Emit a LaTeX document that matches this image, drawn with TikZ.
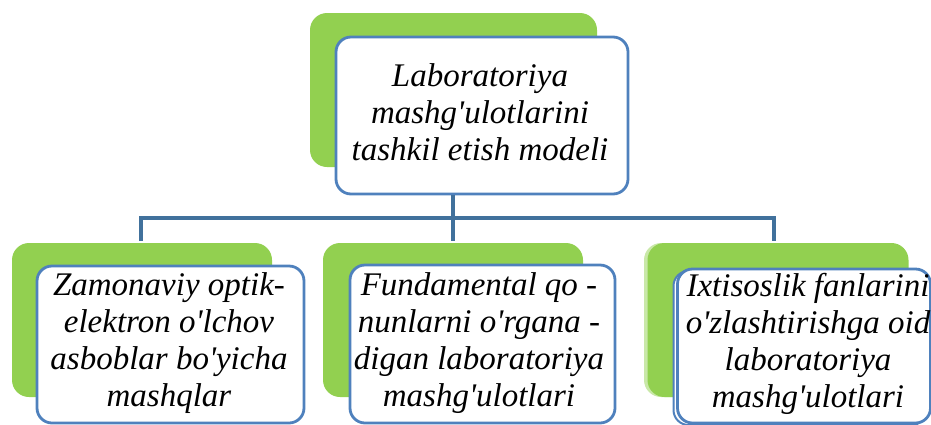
\documentclass[tikz,border=0pt]{standalone}
\usepackage{fontspec}
\setmainfont{Liberation Serif}[Ligatures=TeXOff]
\definecolor{leafgreen}{HTML}{92D050}
\definecolor{paleleaf}{HTML}{C9E8A8}
\definecolor{edgeblue}{HTML}{4F81BD}
\definecolor{linkblue}{HTML}{41719C}
\tikzset{
  greenbox/.style={rectangle, rounded corners=17pt, fill=leafgreen, draw=none, inner sep=0pt},
  whitebox/.style={rectangle, rounded corners=15pt, fill=white, draw=edgeblue, line width=2.8pt, inner sep=0pt},
  label/.style={align=center, inner sep=0pt, font=\fontsize{33}{37}\selectfont\itshape},
  link/.style={draw=linkblue, line width=3.4pt}
}
\begin{document}
\begin{tikzpicture}[x=1pt,y=-1pt]
\useasboundingbox (0,0) rectangle (931,424);
% top
\node[greenbox, minimum width=287pt, minimum height=154pt] (tg) at (453.5,90) {};
\node[whitebox, minimum width=292pt, minimum height=157pt] (tw) at (482,115.5) {};
\node[label] (tt) at (480,112) {Laboratoriya\\mashg'ulotlarini\\tashkil etish modeli};
% left
\node[greenbox, minimum width=260pt, minimum height=154pt] (lg) at (142,320) {};
\node[whitebox, minimum width=267pt, minimum height=157pt] (lw) at (170.5,344.5) {};
\node[label] (lt) at (169,343) {Zamonaviy optik-\\elektron o'lchov\\asboblar bo'yicha\\mashqlar};
% middle
\node[greenbox, minimum width=260pt, minimum height=154pt] (mg) at (453,320) {};
\node[whitebox, minimum width=265pt, minimum height=158pt] (mw) at (482.5,344) {};
\node[label] (mt) at (479,343) {Fundamental qo -\\nunlarni o'rgana -\\digan laboratoriya\\mashg'ulotlari};
% right
\node[greenbox, fill=paleleaf, minimum width=262pt, minimum height=154pt] (rg2) at (775,320) {};
\node[greenbox, minimum width=261pt, minimum height=154pt] (rg) at (778,320) {};
\node[whitebox, line width=2pt, minimum width=253pt, minimum height=154pt] (rw2) at (800,348) {};
\node[whitebox, minimum width=253pt, minimum height=154pt] (rw) at (804,346) {};
\node[label] (rt) at (808,344) {Ixtisoslik fanlarini\\o'zlashtirishga oid\\laboratoriya\\mashg'ulotlari};
% connectors
\coordinate (j) at (453,218);
\coordinate (ld) at (141,241);
\coordinate (md) at (453,241);
\coordinate (rd) at (774,241);
\draw[link] (tw.south -| j) -- (j);
\draw[link] (ld) |- (j) -| (rd);
\draw[link] (j) -- (md);
\end{tikzpicture}
\end{document}
